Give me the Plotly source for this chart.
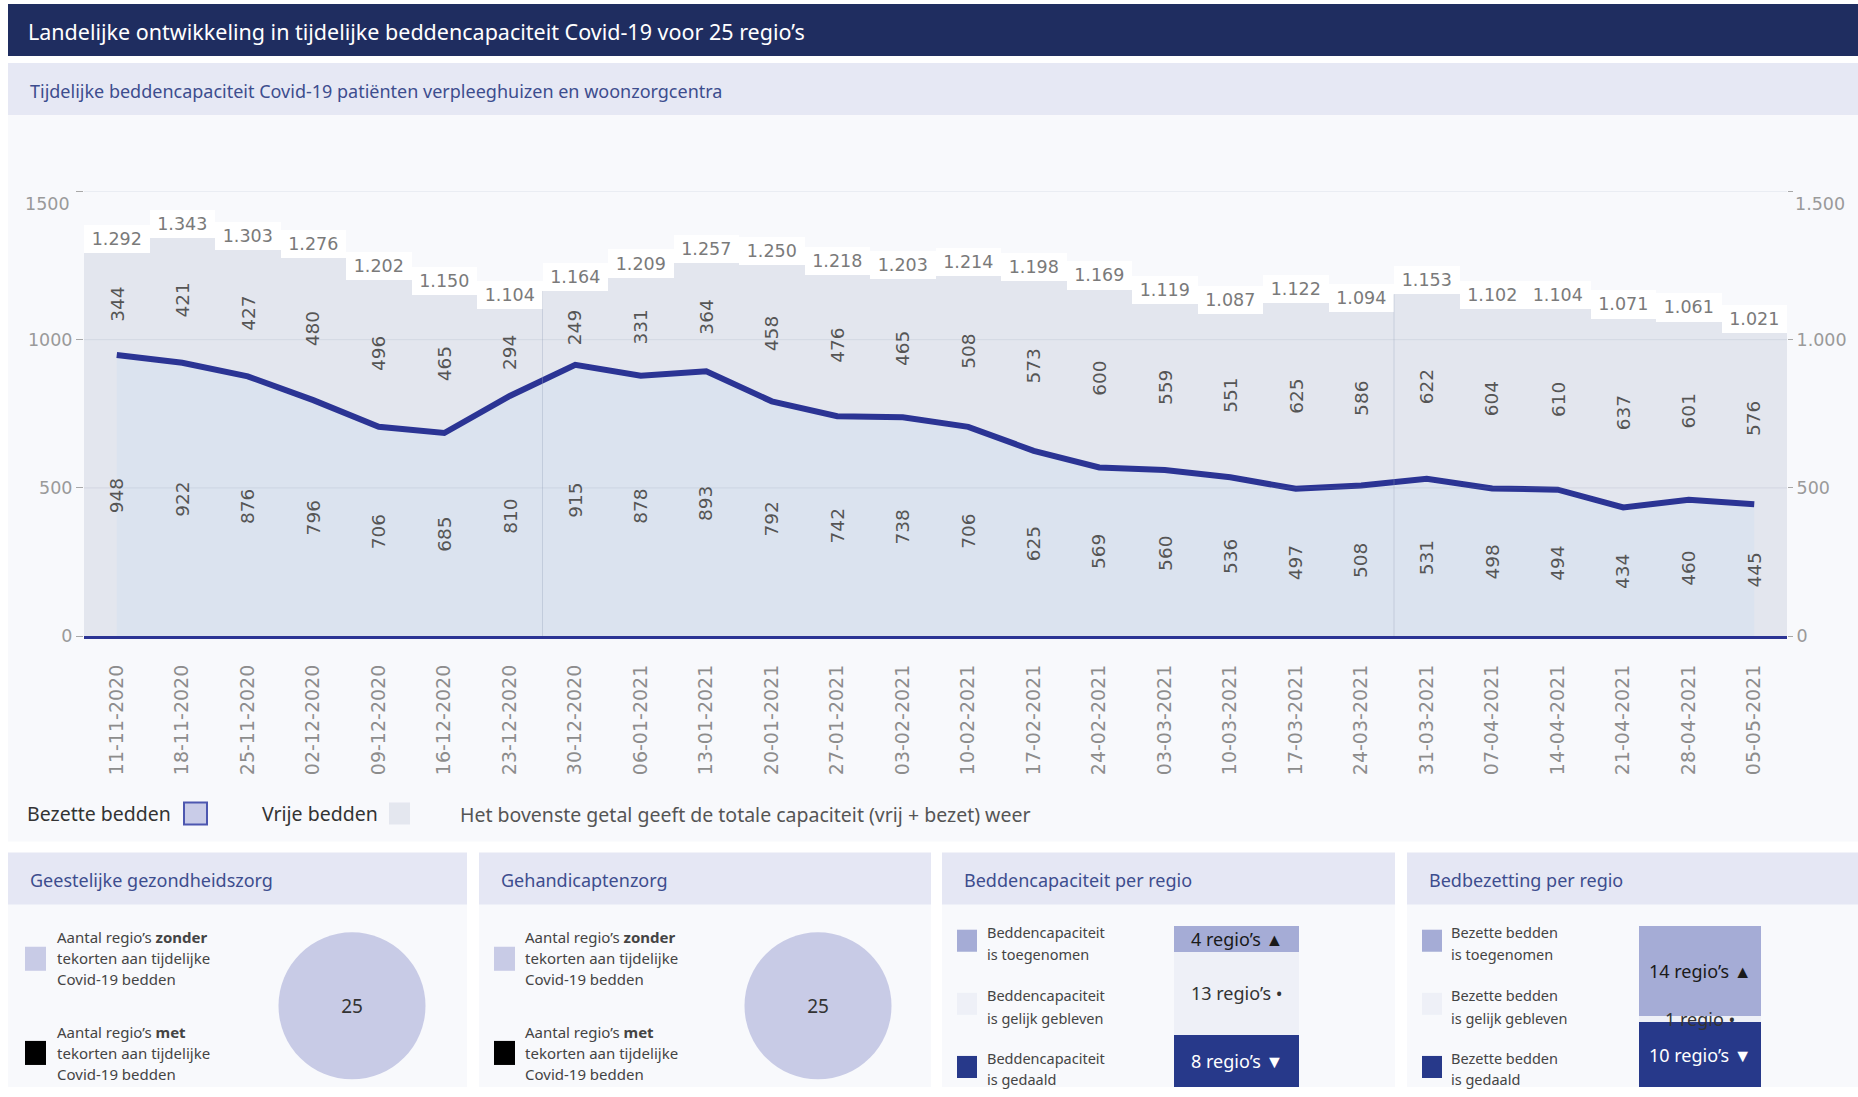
import plotly.graph_objects as go

W, H = 1858, 1097
H_EFF = 1085  # vertical mapping compensates the slight vertical squeeze of the capture


def X(px):
    return min(max(px / W, 0), 1)


def Y(py):
    return min(max(1 - py / H_EFF, 0), 1)


# ---------------- data ----------------
dates = ["11-11-2020", "18-11-2020", "25-11-2020", "02-12-2020", "09-12-2020", "16-12-2020",
         "23-12-2020", "30-12-2020", "06-01-2021", "13-01-2021", "20-01-2021", "27-01-2021",
         "03-02-2021", "10-02-2021", "17-02-2021", "24-02-2021", "03-03-2021", "10-03-2021",
         "17-03-2021", "24-03-2021", "31-03-2021", "07-04-2021", "14-04-2021", "21-04-2021",
         "28-04-2021", "05-05-2021"]
occupied = [948, 922, 876, 796, 706, 685, 810, 915, 878, 893, 792, 742, 738, 706, 625, 569,
            560, 536, 497, 508, 531, 498, 494, 434, 460, 445]
free = [344, 421, 427, 480, 496, 465, 294, 249, 331, 364, 458, 476, 465, 508, 573, 600,
        559, 551, 625, 586, 622, 604, 610, 637, 601, 576]
totals = [1292, 1343, 1303, 1276, 1202, 1150, 1104, 1164, 1209, 1257, 1250, 1218, 1203, 1214,
          1198, 1169, 1119, 1087, 1122, 1094, 1153, 1102, 1104, 1071, 1061, 1021]
separators_after = [6, 19]

y_ticks = [0, 500, 1000, 1500]
y_left_text = ["0", "500", "1000", "1500"]
y_right_text = ["0", "500", "1.000", "1.500"]

ggz_values = [25, 0]          # zonder, met tekorten
ghz_values = [25, 0]
pie_colors = ["#c8cbe6", "#000000"]

change_labels = ["gedaald", "gelijk", "toegenomen"]
cap_counts = [8, 13, 4]
bez_counts = [10, 1, 14]
change_colors = ["#27398a", "#eef0f7", "#a5acd6"]
change_text_cap = ["8 regio’s ▼", "13 regio’s •", "4 regio’s ▲"]
change_text_bez = ["10 regio’s ▼", "1 regio •", "14 regio’s ▲"]
change_text_colors = ["#ffffff", "#333333", "#1a1a1a"]

NAVY = "#2b3494"
NS = "Noto Sans"
DV = "DejaVu Sans"


def fmt(v):
    return f"{v:,}".replace(",", ".")


fig = go.Figure()

# total capacity bars (vrije bedden colour)
fig.add_trace(go.Bar(x=dates, y=totals, width=1, marker=dict(color="#e3e6ee", line=dict(width=0)),
                     hoverinfo="skip", showlegend=False))
# white label boxes on top of total
fig.add_trace(go.Bar(x=dates, y=[95] * len(dates), width=1,
                     marker=dict(color="#ffffff", line=dict(width=0)),
                     text=[fmt(v) for v in totals], texttemplate="%{text}",
                     textposition="inside", insidetextanchor="middle", textangle=0,
                     textfont=dict(family=DV, size=17.5, color="#7a7a7a"),
                     hoverinfo="skip", showlegend=False))
# occupied beds line + fill
fig.add_trace(go.Scatter(x=dates, y=occupied, mode="lines", fill="tozeroy",
                         fillcolor="#dbe3ef", line=dict(color=NAVY, width=6),
                         hoverinfo="skip", showlegend=False))
# invisible trace for right axis
fig.add_trace(go.Scatter(x=dates, y=totals, yaxis="y2", mode="markers",
                         marker=dict(opacity=0), hoverinfo="skip", showlegend=False))

# pies
for vals, cx in [(ggz_values, 352), (ghz_values, 818)]:
    r = 73.5
    fig.add_trace(go.Pie(values=vals, labels=["zonder", "met"], sort=False,
                         marker=dict(colors=pie_colors, line=dict(width=0)),
                         texttemplate=["%{value}", ""], textposition="inside",
                         textfont=dict(family=NS, size=19, color="#333333"),
                         domain=dict(x=[X(cx - r), X(cx + r)], y=[Y(1004 + r), Y(1004 - r)]),
                         hoverinfo="skip", showlegend=False))

# stacked change bars
for counts, xa, ya in [(cap_counts, "x3", "y3"), (bez_counts, "x4", "y4")]:
    for c, col in zip(counts, change_colors):
        fig.add_trace(go.Bar(x=[0], y=[c], width=1, xaxis=xa, yaxis=ya,
                             marker=dict(color=col, line=dict(width=0)),
                             hoverinfo="skip", showlegend=False))

shapes = []
ann = []


def rect(x0, y0, x1, y1, color, layer="below", line=None):
    d = dict(type="rect", xref="paper", yref="paper", x0=X(x0), x1=X(x1), y0=Y(y1), y1=Y(y0),
             fillcolor=color, layer=layer, line=dict(width=0))
    if line:
        d["line"] = line
    shapes.append(d)


# ---- background blocks ----
rect(8, 4, 1858, 56, "#1f2d60")
rect(8, 63, 1858, 115, "#e6e8f4")
rect(8, 115, 1858, 840, "#f8f9fc")
panels = [(8, 467), (479, 931), (942, 1395), (1407, 1858)]
panel_titles = ["Geestelijke gezondheidszorg", "Gehandicaptenzorg",
                "Beddencapaciteit per regio", "Bedbezetting per regio"]
for (p0, p1), t in zip(panels, panel_titles):
    rect(p0, 851, p1, 903, "#e5e7f4")
    rect(p0, 903, p1, 1110, "#f8f9fc")
    ann.append(dict(text=t, x=X(p0 + 20), y=Y(878), xref="paper", yref="paper",
                    xanchor="left", yanchor="middle", showarrow=False,
                    font=dict(family=NS, size=18, color="#3d4d8e")))

ann.append(dict(text="Landelijke ontwikkeling in tijdelijke beddencapaciteit Covid-19 voor 25 regio’s",
                x=X(26), y=Y(31), xref="paper", yref="paper", xanchor="left", yanchor="middle",
                showarrow=False, font=dict(family=NS, size=21.5, color="#ffffff")))
ann.append(dict(text="Tijdelijke beddencapaciteit Covid-19 patiënten verpleeghuizen en woonzorgcentra",
                x=X(28), y=Y(91), xref="paper", yref="paper", xanchor="left", yanchor="middle",
                showarrow=False, font=dict(family=NS, size=18, color="#3d4d8e")))

# ---- main chart decorations ----
for v in y_ticks[1:]:
    shapes.append(dict(type="line", xref="x domain", yref="y", x0=0, x1=1, y0=v, y1=v,
                       layer="above", line=dict(color="rgba(140,150,180,0.18)", width=1)))
for i in separators_after:
    shapes.append(dict(type="line", xref="x", yref="y", x0=i + 0.5, x1=i + 0.5, y0=0,
                       y1=max(totals[i], totals[i + 1]), layer="above",
                       line=dict(color="rgba(150,160,185,0.35)", width=1)))

for d, o, f in zip(dates, occupied, free):
    ann.append(dict(text=str(o), x=d, y=o / 2, xref="x", yref="y", textangle=-90,
                    showarrow=False, font=dict(family=DV, size=18.5, color="#555555")))
    ann.append(dict(text=str(f), x=d, y=o + f / 2, xref="x", yref="y", textangle=-90,
                    showarrow=False, font=dict(family=DV, size=18.5, color="#555555")))

# 1500 labels sit slightly below their tick
ann.append(dict(text=y_left_text[-1], x=X(72), y=y_ticks[-1], xref="paper", yref="y",
                xanchor="right", yanchor="middle", yshift=-13, showarrow=False,
                font=dict(family=DV, size=17.5, color="#9a9a9a")))
ann.append(dict(text=y_right_text[-1], x=X(1793), y=y_ticks[-1], xref="paper", yref="y",
                xanchor="left", yanchor="middle", yshift=-13, showarrow=False,
                font=dict(family=DV, size=17.5, color="#9a9a9a")))

# ---- legend row ----
ann.append(dict(text="Bezette bedden", x=X(25), y=Y(812), xref="paper", yref="paper",
                xanchor="left", yanchor="middle", showarrow=False,
                font=dict(family=NS, size=19.5, color="#333333")))
rect(184, 801, 207, 823, "#c9cce8", layer="above", line=dict(color="#4d57b0", width=2))
ann.append(dict(text="Vrije bedden", x=X(260), y=Y(812), xref="paper", yref="paper",
                xanchor="left", yanchor="middle", showarrow=False,
                font=dict(family=NS, size=19.5, color="#333333")))
rect(389, 801, 410, 823, "#e4e7ef", layer="above")
ann.append(dict(text="Het bovenste getal geeft de totale capaciteit (vrij + bezet) weer",
                x=X(458), y=Y(813), xref="paper", yref="paper", xanchor="left", yanchor="middle",
                showarrow=False, font=dict(family=NS, size=19.5, color="#555555")))

# ---- pie panels legends ----
for sx, tx in [(25, 55), (494, 523)]:
    rect(sx, 945, sx + 21, 969, pie_colors[0], layer="above")
    rect(sx, 1039, sx + 21, 1063, pie_colors[1], layer="above")
    for lines, y0 in [(["Aantal regio’s <b>zonder</b>", "tekorten aan tijdelijke", "Covid-19 bedden"], 935),
                      (["Aantal regio’s <b>met</b>", "tekorten aan tijdelijke", "Covid-19 bedden"], 1030)]:
        for k, line in enumerate(lines):
            ann.append(dict(text=line, x=X(tx), y=Y(y0 + 21 * k), xref="paper", yref="paper",
                            xanchor="left", yanchor="middle", showarrow=False,
                            font=dict(family=NS, size=15, color="#444444")))

# ---- change panels legends ----
legend_rows = [(930, 952), (993, 1016), (1056, 1077)]
cap_leg = [["Beddencapaciteit", "is toegenomen"], ["Beddencapaciteit", "is gelijk gebleven"],
           ["Beddencapaciteit", "is gedaald"]]
bez_leg = [["Bezette bedden", "is toegenomen"], ["Bezette bedden", "is gelijk gebleven"],
           ["Bezette bedden", "is gedaald"]]
leg_cols = [change_colors[2], change_colors[1], change_colors[0]]
for sx, tx, legs in [(957, 985, cap_leg), (1422, 1449, bez_leg)]:
    for (ya, yb), col, lines in zip(legend_rows, leg_cols, legs):
        rect(sx, ya - 2, sx + 20, ya + 20, col, layer="above")
        for k, (line, yy) in enumerate(zip(lines, (ya, yb))):
            ann.append(dict(text=line, x=X(tx), y=Y(yy), xref="paper", yref="paper",
                            xanchor="left", yanchor="middle", showarrow=False,
                            font=dict(family=NS, size=14.5, color="#444444")))

for counts, texts, xa, ya in [(cap_counts, change_text_cap, "x3", "y3"),
                              (bez_counts, change_text_bez, "x4", "y4")]:
    cum = 0
    for c, t, tc in zip(counts, texts, change_text_colors):
        ann.append(dict(text=t, x=0, y=cum + c / 2, xref=xa, yref=ya, showarrow=False,
                        xanchor="center", yanchor="middle",
                        font=dict(family=NS, size=18, color=tc)))
        cum += c

# change bars: total of 25 regions spans from y=924 down to y=1098 (reference pixels)
bar_bottom = Y(1098)
fig.update_layout(
    width=W, height=H, margin=dict(l=0, r=0, t=0, b=0),
    paper_bgcolor="#ffffff", plot_bgcolor="rgba(0,0,0,0)",
    barmode="stack", showlegend=False,
    shapes=shapes, annotations=ann,
    xaxis=dict(domain=[X(84), X(1787)], type="category", range=[-0.5, len(dates) - 0.5],
               tickangle=-90, tickfont=dict(family=DV, size=19, color="#8c8c8c"),
               showline=True, linecolor=NAVY, linewidth=3, ticks="", showgrid=False,
               zeroline=False, ticklabelstandoff=18, fixedrange=True),
    yaxis=dict(domain=[Y(635), Y(191)], range=[0, 1500], tickvals=y_ticks,
               ticktext=y_left_text[:-1] + [""], ticks="outside", ticklen=7,
               tickcolor="#a8a8a8", tickfont=dict(family=DV, size=17.5, color="#9a9a9a"),
               showgrid=False, zeroline=False, showline=False),
    yaxis2=dict(domain=[Y(635), Y(191)], range=[0, 1500], overlaying="y", side="right",
                anchor="x", tickvals=y_ticks, ticktext=y_right_text[:-1] + [""],
                ticks="outside", ticklen=5, tickcolor="#a8a8a8",
                tickfont=dict(family=DV, size=17.5, color="#9a9a9a"),
                showgrid=False, zeroline=False, showline=False),
    xaxis3=dict(domain=[X(1174), X(1299)], range=[-0.5, 0.5], visible=False, anchor="y3"),
    yaxis3=dict(domain=[bar_bottom, Y(924)], range=[0, sum(cap_counts)], visible=False, anchor="x3"),
    xaxis4=dict(domain=[X(1639), X(1761)], range=[-0.5, 0.5], visible=False, anchor="y4"),
    yaxis4=dict(domain=[bar_bottom, Y(924)], range=[0, sum(bez_counts)], visible=False, anchor="x4"),
)

fig.write_html(
    "out.html",
    config={"displayModeBar": False},
    post_script="document.body.style.margin='0';document.body.style.overflow='hidden';",
)
